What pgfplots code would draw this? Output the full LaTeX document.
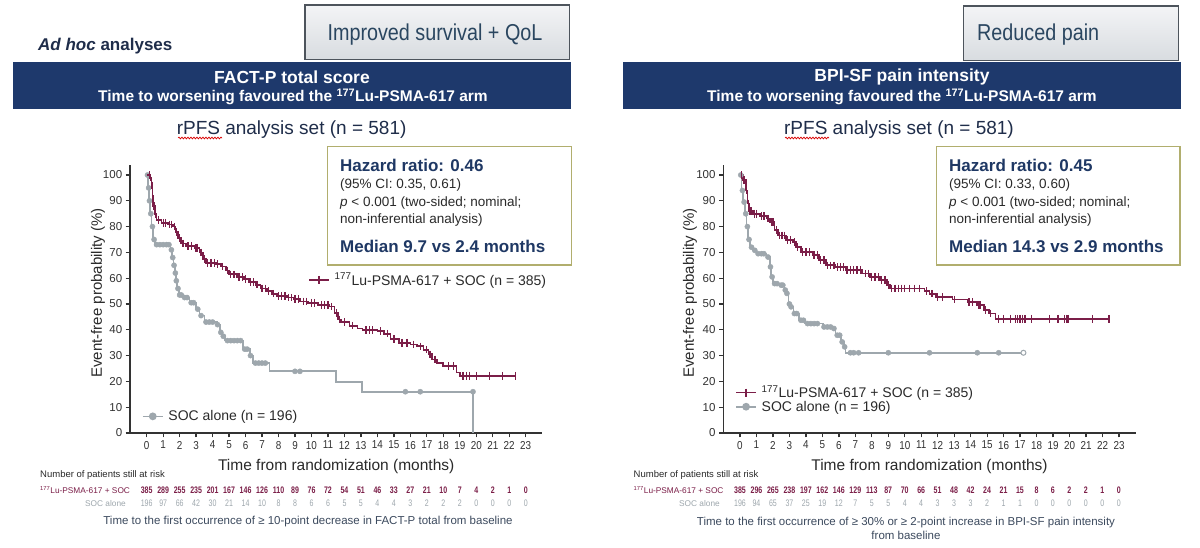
\documentclass[border=0pt]{standalone}
\usepackage{fontspec}
\setmainfont{Liberation Sans}
\newfontfamily\narrowf[FakeStretch=0.86]{Liberation Sans}
\newfontfamily\vnarrowf[FakeStretch=0.74]{Liberation Sans}
\usepackage{pgfplots}
\pgfplotsset{compat=1.18}
\usetikzlibrary{decorations.pathmorphing}
\definecolor{lu}{HTML}{7B1E48}
\definecolor{soc}{HTML}{9EA7AD}
\definecolor{banner}{HTML}{1E396C}
\definecolor{navy}{HTML}{1F3864}
\definecolor{olive}{HTML}{B1AE6E}
\definecolor{axisc}{HTML}{333333}
\definecolor{slate}{HTML}{3C4A5E}
\definecolor{boxtext}{HTML}{2A4660}
\definecolor{boxtop}{HTML}{F3F4F6}
\definecolor{boxbot}{HTML}{D8DCE0}
\definecolor{boxdraw}{HTML}{4D545C}
\definecolor{txt}{HTML}{2A2A2A}
\definecolor{titlec}{HTML}{1F2D4A}
\newcommand{\fs}[1]{\fontsize{#1}{#1}\selectfont}

\pgfplotsset{
  km/.style={
    scale only axis, width=412pt, height=268.3pt,
    xmin=-1, xmax=24, ymin=0, ymax=104,
    axis lines=left,
    axis line style={-, axisc, line width=1.8pt},
    xtick={0,...,23}, ytick={0,10,...,100},
    tick align=outside, major tick length=4.5pt,
    tick style={axisc, line width=1.3pt},
    /pgf/number format/assume math mode=true,
    xticklabel style={font=\narrowf\fs{11.5}, text=axisc},
    yticklabel style={font=\fs{11.5}, text=axisc},
    clip=false,
    legend style={draw=none, fill=none, font=\fs{14}, text=txt, inner sep=0pt, row sep=0pt, column sep=4pt, nodes={inner sep=0.8pt}},
    legend cell align=left,
    legend image code/.code={\draw[mark repeat=2, mark phase=2, ##1] plot coordinates {(0pt,0pt) (10pt,0pt) (20pt,0pt)};},
  },
  lucurve/.style={const plot, lu, line width=1.7pt, forget plot},
  soccurve/.style={const plot, soc, line width=1.7pt, forget plot},
  lumarks/.style={only marks, lu, mark=|, mark size=3.8pt, mark options={line width=1.3pt}, forget plot},
  socmarks/.style={only marks, soc, mark=*, mark size=2.6pt, mark options={draw=soc, fill=soc}, forget plot},
}

\begin{document}
\begin{tikzpicture}[x=1pt,y=1pt]
\path[use as bounding box, fill=white] (0,0) rectangle (1200,548);

% ---------------- LEFT PANEL ----------------
\begin{axis}[km, at={(130.2pt,115pt)}, anchor=south west,
  legend style={at={(0.028,0.062)}, anchor=west}]
\addplot[soccurve] coordinates {
(0,100) (0.1,95) (0.15,90) (0.2,85) (0.3,80) (0.4,75) (0.5,73) (1.45,71) (1.55,68)
(1.62,65) (1.7,62) (1.78,59) (1.85,56) (1.95,53.5) (2.2,52.5) (2.6,50.5) (3.0,48)
(3.2,45.5) (3.5,43) (4.25,42) (4.45,39) (4.6,37.5) (4.75,35.8) (5.85,32.5) (6.25,30)
(6.45,27.1) (7.45,23.9) (11.5,19.9) (13.05,16) (19.8,0)};
\addplot[socmarks] coordinates {
(0.05,100) (0.12,95) (0.17,90) (0.25,85) (0.35,80) (0.45,75) (0.6,73) (0.8,73) (1.0,73)
(1.2,73) (1.35,73) (1.5,71) (1.58,68) (1.66,65) (1.74,62) (1.8,59) (1.9,56) (2.0,53.5)
(2.1,53.5) (2.3,52.5) (2.45,52.5) (2.7,50.5) (2.85,50.5) (3.1,48) (3.3,45.5) (3.6,43)
(3.8,43) (4.0,43) (4.3,42) (4.5,39) (4.65,37.5) (4.9,35.8) (5.1,35.8) (5.3,35.8)
(5.5,35.8) (5.7,35.8) (5.95,32.5) (6.1,32.5) (6.3,30) (6.6,27.1) (6.8,27.1) (7.0,27.1)
(7.2,27.1) (9.0,23.9) (9.3,23.9) (15.7,16) (16.6,16) (19.8,16)};
\addlegendimage{soc, line width=1.7pt, mark=*, mark size=3pt}
\addlegendentry{SOC alone (n = 196)}
\end{axis}

\begin{axis}[km, hide axis, at={(130.2pt,115pt)}, anchor=south west,
  legend style={at={(0.4316,0.571)}, anchor=west}]
\addplot[lucurve] coordinates {
(0,100) (0.2,99) (0.3,96) (0.35,92) (0.4,88) (0.5,85) (0.6,82.5) (0.9,81.5) (1.3,80.8)
(1.6,80) (1.75,78) (1.9,75.5) (2.1,73.5) (2.4,72.5) (2.9,71.8) (3.2,70) (3.4,67.5)
(3.6,66) (4.2,65.5) (4.5,64.5) (4.8,63) (5.0,61.5) (5.5,60.5) (5.9,59.8) (6.2,58.5)
(6.6,57.5) (6.9,56) (7.3,55) (7.6,54) (7.9,53) (8.5,52.5) (8.9,52) (9.3,51) (9.8,50.5)
(10.4,49.5) (11.1,49) (11.4,46.5) (11.6,44) (11.8,43) (12.3,41.6) (12.8,40.5) (13.1,40)
(14.0,39.5) (14.4,38.5) (14.8,36.5) (15.3,35) (16.0,34.3) (16.4,33.6) (16.8,32.3)
(17.1,30.5) (17.3,28.5) (17.6,27) (18.0,25.9) (18.8,23.5) (19.0,22.2) (22.4,22.2)};
\addplot[lumarks] coordinates {
(0.15,100) (0.25,99) (0.32,96) (0.45,88) (0.55,85) (0.7,82.5) (1.0,81.5) (1.15,81.5)
(1.4,80.8) (1.5,80.8) (1.7,80) (1.8,78) (2.0,75.5) (2.2,73.5) (2.5,72.5) (2.7,72.5)
(3.0,71.8) (3.1,71.8) (3.3,70) (3.5,67.5) (3.7,66) (3.9,66) (4.1,66) (4.3,65.5)
(4.6,64.5) (4.9,63) (5.1,61.5) (5.3,61.5) (5.6,60.5) (5.8,60.5) (6.0,59.8) (6.3,58.5)
(6.5,58.5) (6.7,57.5) (7.0,56) (7.2,56) (7.4,55) (7.7,54) (8.0,53) (8.2,53) (8.4,53)
(8.6,52.5) (8.8,52.5) (9.0,52) (9.2,52) (9.5,51) (9.7,51) (10.0,50.5) (10.2,50.5)
(10.6,49.5) (10.8,49.5) (11.0,49.5) (11.2,49) (11.5,46.5) (11.7,44) (12.0,43)
(12.5,41.6) (13.3,40) (13.5,40) (13.7,40) (14.2,39.5) (14.6,38.5) (15.0,36.5)
(15.5,35) (15.8,35) (16.2,34.3) (16.6,33.6) (17.0,32.3) (17.2,30.5) (17.5,28.5)
(18.3,25.9) (18.6,25.9) (19.2,22.2) (19.4,22.2) (19.6,22.2) (20.0,22.2) (20.8,22.2)
(21.6,22.2) (22.4,22.2)};
\addlegendimage{lu, line width=1.7pt, mark=|, mark size=4pt, mark options={line width=1.3pt}}
\addlegendentry{\textsuperscript{177}Lu-PSMA-617 + SOC (n = 385)}
\end{axis}

% ---------------- RIGHT PANEL ----------------
\begin{axis}[km, at={(723.5pt,115pt)}, anchor=south west,
  legend style={at={(0.028,0.126)}, anchor=west}]
\addplot[soccurve] coordinates {
(0,100) (0.1,94) (0.2,89.5) (0.3,85) (0.4,80) (0.5,75) (0.6,72) (0.8,70.8) (1.0,69.5)
(1.6,68.2) (1.8,64.4) (1.9,60.5) (2.0,57.9) (2.4,57.3) (2.7,55.4) (2.8,54.1) (2.95,50)
(3.05,48.9) (3.25,46.3) (3.6,43.7) (3.95,42.4) (5.05,41.1) (5.65,40.5) (5.8,37.9)
(6.15,35.3) (6.3,33.4) (6.4,31.1) (17.2,31.1)};
\addplot[socmarks] coordinates {
(0.05,100) (0.15,94) (0.25,89.5) (0.35,85) (0.45,80) (0.55,75) (0.7,72) (0.9,70.8)
(1.1,69.5) (1.3,69.5) (1.45,69.5) (1.7,68.2) (1.85,64.4) (1.95,60.5) (2.1,57.9)
(2.25,57.9) (2.5,57.3) (2.6,57.3) (2.75,55.4) (2.85,54.1) (3.0,50) (3.1,48.9) (3.3,46.3)
(3.45,46.3) (3.7,43.7) (3.85,43.7) (4.1,42.4) (4.3,42.4) (4.5,42.4) (4.7,42.4)
(5.1,41.1) (5.3,41.1) (5.5,41.1) (5.7,40.5) (5.9,37.9) (6.05,37.9) (6.2,35.3)
(6.35,33.4) (6.7,31.1) (6.9,31.1) (7.2,31.1) (9.0,31.1) (11.5,31.1) (14.4,31.1) (15.7,31.1)};
\addplot[only marks, mark=*, mark size=2.5pt, mark options={draw=soc, fill=white, line width=1pt}, forget plot] coordinates {(17.2,31.1)};
\addplot[lucurve] coordinates {
(0,100) (0.2,98) (0.35,94) (0.45,89) (0.55,86) (0.8,85) (1.2,84) (1.6,83.1) (1.8,81.8)
(2.1,78.6) (2.3,76.6) (2.8,74.7) (3.2,74) (3.4,72.1) (3.7,70.2) (4.4,68.9) (4.8,67)
(5.2,65) (5.8,64.4) (6.4,63.1) (7.4,61.8) (7.9,60.5) (8.5,59.2) (8.9,57.3) (9.1,56)
(11.2,55) (11.5,54) (11.9,52.7) (12.9,51.7) (13.8,50.8) (14.4,49.5) (14.8,47.6)
(15.1,46.3) (15.5,44.3) (22.4,44.3)};
\addplot[lumarks] coordinates {
(0.1,100) (0.25,98) (0.4,94) (0.5,89) (0.6,86) (0.7,86) (0.9,85) (1.0,85) (1.3,84)
(1.45,84) (1.7,83.1) (1.9,81.8) (2.0,81.8) (2.2,78.6) (2.4,76.6) (2.55,76.6) (2.7,76.6)
(2.9,74.7) (3.05,74.7) (3.3,74) (3.5,72.1) (3.8,70.2) (4.0,70.2) (4.2,70.2) (4.5,68.9)
(4.7,68.9) (4.9,67) (5.1,67) (5.3,65) (5.5,65) (5.7,65) (5.9,64.4) (6.1,64.4) (6.3,64.4)
(6.5,63.1) (6.7,63.1) (6.9,63.1) (7.1,63.1) (7.3,63.1) (7.6,61.8) (7.8,61.8) (8.0,60.5)
(8.2,60.5) (8.4,60.5) (8.6,59.2) (8.8,59.2) (9.0,57.3) (9.2,56) (9.4,56) (9.6,56)
(9.8,56) (10.0,56) (10.3,56) (10.6,56) (10.9,56) (11.3,55) (11.6,54) (11.7,54) (12.0,52.7)
(12.3,52.7) (13.0,51.7) (13.9,50.8) (14.1,50.8) (14.5,49.5) (14.6,49.5) (14.9,47.6)
(15.2,46.3) (15.7,44.3) (16.0,44.3) (16.4,44.3) (16.7,44.3) (16.85,44.3) (17.0,44.3)
(17.15,44.3) (17.3,44.3) (17.7,44.3) (18.8,44.3) (19.3,44.3) (19.7,44.3) (19.8,44.3)
(19.9,44.3) (21.4,44.3) (22.4,44.3)};
\addlegendimage{lu, line width=1.7pt, mark=|, mark size=4pt, mark options={line width=1.3pt}}
\addlegendentry{\textsuperscript{177}Lu-PSMA-617 + SOC (n = 385)}
\addlegendimage{soc, line width=1.7pt, mark=*, mark size=3pt}
\addlegendentry{SOC alone (n = 196)}
\end{axis}

% ---------------- HEADERS ----------------
\node[anchor=base west, inner sep=0, text=titlec, font=\fs{17}\bfseries] at (38,497.3) {\textit{Ad hoc} analyses};
\draw[boxdraw, line width=1.1pt, top color=boxtop, bottom color=boxbot] (305,488.7) rectangle (569.5,543);
\node[font=\narrowf\fs{23}, text=boxtext] at (435,513) {Improved survival + QoL};
\draw[boxdraw, line width=1.1pt, top color=boxtop, bottom color=boxbot] (963.6,487.3) rectangle (1178.6,542);
\node[anchor=west, font=\narrowf\fs{23}, text=boxtext, inner sep=0] at (977,513) {Reduced pain};

\fill[banner] (13.4,438.7) rectangle (571,485.7);
\node[text=white, font=\fs{17.5}\bfseries] at (292,470.7) {FACT-P total score};
\node[text=white, font=\fs{15.5}\bfseries] at (293,450.7) {Time to worsening favoured the \textsuperscript{177}Lu-PSMA-617 arm};
\fill[banner] (623,438.7) rectangle (1180.6,485.7);
\node[text=white, font=\fs{17.5}\bfseries] at (902,470.7) {BPI-SF pain intensity};
\node[text=white, font=\fs{15.5}\bfseries] at (902,450.7) {Time to worsening favoured the \textsuperscript{177}Lu-PSMA-617 arm};

\node[font=\fs{19}, text=titlec] at (291.6,418.7) {rPFS analysis set (n = 581)};
\node[font=\fs{19}, text=titlec] at (899,418.7) {rPFS analysis set (n = 581)};
\draw[red!85!black, line width=0.7pt, decorate, decoration={snake, amplitude=0.9pt, segment length=3pt}] (178,410) -- (222,410);
\draw[red!85!black, line width=0.7pt, decorate, decoration={snake, amplitude=0.9pt, segment length=3pt}] (785,410) -- (829,410);

% ---------------- HAZARD BOXES ----------------
\draw[olive, line width=1.3pt, fill=white] (327.3,283) rectangle (571.7,401.3);
\node[anchor=base west, inner sep=0, font=\fs{17}\bfseries, text=navy] at (340,376.9) {Hazard ratio: 0.46};
\node[anchor=base west, inner sep=0, font=\fs{13.5}, text=txt] at (340,359.2) {(95\% CI: 0.35, 0.61)};
\node[anchor=base west, inner sep=0, font=\fs{13.5}, text=txt] at (340,341.5) {\textit{p} < 0.001 (two-sided; nominal;};
\node[anchor=base west, inner sep=0, font=\fs{13.5}, text=txt] at (340,324.2) {non-inferential analysis)};
\node[anchor=base west, inner sep=0, font=\fs{17}\bfseries, text=navy] at (340,295.9) {Median 9.7 vs 2.4 months};

\draw[olive, line width=1.3pt, fill=white] (936.7,283) rectangle (1180,401.3);
\node[anchor=base west, inner sep=0, font=\fs{17}\bfseries, text=navy] at (949,376.9) {Hazard ratio: 0.45};
\node[anchor=base west, inner sep=0, font=\fs{13.5}, text=txt] at (949,359.2) {(95\% CI: 0.33, 0.60)};
\node[anchor=base west, inner sep=0, font=\fs{13.5}, text=txt] at (949,341.5) {\textit{p} < 0.001 (two-sided; nominal;};
\node[anchor=base west, inner sep=0, font=\fs{13.5}, text=txt] at (949,324.2) {non-inferential analysis)};
\node[anchor=base west, inner sep=0, font=\fs{17}\bfseries, text=navy] at (949,295.9) {Median 14.3 vs 2.9 months};

% ---------------- AXIS LABELS ----------------
\node[font=\fs{15.5}, text=txt] at (336.2,82) {Time from randomization (months)};
\node[font=\fs{15.5}, text=txt] at (929.5,82) {Time from randomization (months)};
\node[rotate=90, font=\fs{15}, text=txt] at (98,255) {Event-free probability (\%)};
\node[rotate=90, font=\fs{15}, text=txt] at (690,255) {Event-free probability (\%)};

% ---------------- AT RISK ----------------
\node[anchor=west, font=\fs{9.5}, text=txt, inner sep=0] at (40,73) {Number of patients still at risk};
\node[anchor=west, font=\fs{8.3}, text=lu, inner sep=0] at (40,58) {\textsuperscript{177}Lu-PSMA-617 + SOC};
\node[anchor=east, font=\fs{8.3}, text=soc, inner sep=0] at (126,44.7) {SOC alone};
\foreach \v [count=\i from 0] in {385,289,255,235,201,167,146,126,110,89,76,72,54,51,46,33,27,21,10,7,4,2,1,0}
  \node[font=\vnarrowf\bfseries\fs{9.5}, text=lu, inner sep=0] at ({146.7+16.48*\i},58) {\v};
\foreach \v [count=\i from 0] in {196,97,66,42,30,21,14,10,8,8,6,6,5,5,4,4,3,2,2,2,0,0,0,0}
  \node[font=\vnarrowf\fs{9.5}, text=soc, inner sep=0] at ({146.7+16.48*\i},44.7) {\v};
\node[font=\fs{11.5}, text=slate] at (308,26.3) {Time to the first occurrence of ≥ 10-point decrease in FACT-P total from baseline};

\node[anchor=west, font=\fs{9.5}, text=txt, inner sep=0] at (633.5,73) {Number of patients still at risk};
\node[anchor=west, font=\fs{8.3}, text=lu, inner sep=0] at (633.5,58) {\textsuperscript{177}Lu-PSMA-617 + SOC};
\node[anchor=east, font=\fs{8.3}, text=soc, inner sep=0] at (720,44.7) {SOC alone};
\foreach \v [count=\i from 0] in {385,296,265,238,197,162,146,129,113,87,70,66,51,48,42,24,21,15,8,6,2,2,1,0}
  \node[font=\vnarrowf\bfseries\fs{9.5}, text=lu, inner sep=0] at ({740+16.47*\i},58) {\v};
\foreach \v [count=\i from 0] in {196,94,65,37,25,19,12,7,5,5,4,4,3,3,3,2,1,1,0,0,0,0,0,0}
  \node[font=\vnarrowf\fs{9.5}, text=soc, inner sep=0] at ({740+16.47*\i},44.7) {\v};
\node[font=\fs{11.5}, text=slate] at (906,25.3) {Time to the first occurrence of ≥ 30\% or ≥ 2-point increase in BPI-SF pain intensity};
\node[font=\fs{11.5}, text=slate] at (906,12.3) {from baseline};
\end{tikzpicture}
\end{document}
